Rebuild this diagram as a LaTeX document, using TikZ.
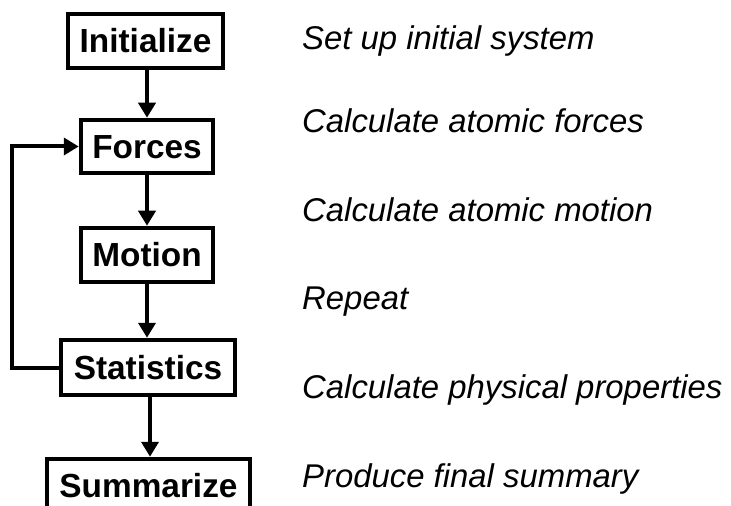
\documentclass[tikz,border=0pt]{standalone}
\usepackage{fontspec}
\setmainfont{Liberation Sans}
\usetikzlibrary{arrows.meta}
\begin{document}
\begin{tikzpicture}[x=1bp,y=-1bp,
  stepbox/.style={draw=black, line width=4.5bp, inner sep=0pt, minimum height=54bp,
    text height=23.5bp, text depth=0pt, font=\fontsize{33.5}{39}\selectfont\bfseries},
  desc/.style={anchor=base west, inner sep=0pt, font=\fontsize{33}{39}\selectfont\itshape},
  flow/.style={line width=4bp, -{Triangle[length=15bp,width=17bp]}}]
\useasboundingbox (0,0) rectangle (731,506);
\clip (0,0) rectangle (731,506);
\fill[white] (0,0) rectangle (731,506);
\node[stepbox, minimum width=155bp] (init)  at (145.5,41)  {Initialize};
\node[stepbox, minimum width=132bp, minimum height=53bp] (forces) at (147,146.5) {Forces};
\node[stepbox, minimum width=132bp] (motion) at (147,255)  {Motion};
\node[stepbox, minimum width=174bp, minimum height=55bp] (stat) at (148,367.5) {Statistics};
\node[stepbox, minimum width=203bp] (summ)   at (148.5,486) {Summarize};

\draw[flow] (forces.north |- init.south) -- (forces.north);
\draw[flow] (forces.south) -- (motion.north);
\draw[flow] (motion.south) -- (motion.south |- stat.north);
\draw[flow] ([xshift=2bp]stat.south) -- ([xshift=2bp]stat.south |- summ.north);
\draw[flow] (stat.west) -- ++(-47,0) |- (forces.west);

\node[desc] (d1) at (302,50)  {Set up initial system};
\node[desc] (d2) at (302,133) {Calculate atomic forces};
\node[desc] (d3) at (302,222) {Calculate atomic motion};
\node[desc] (d4) at (302,309) {Repeat};
\node[desc] (d5) at (302,398) {Calculate physical properties};
\node[desc] (d6) at (302,487) {Produce final summary};
\end{tikzpicture}
\end{document}
